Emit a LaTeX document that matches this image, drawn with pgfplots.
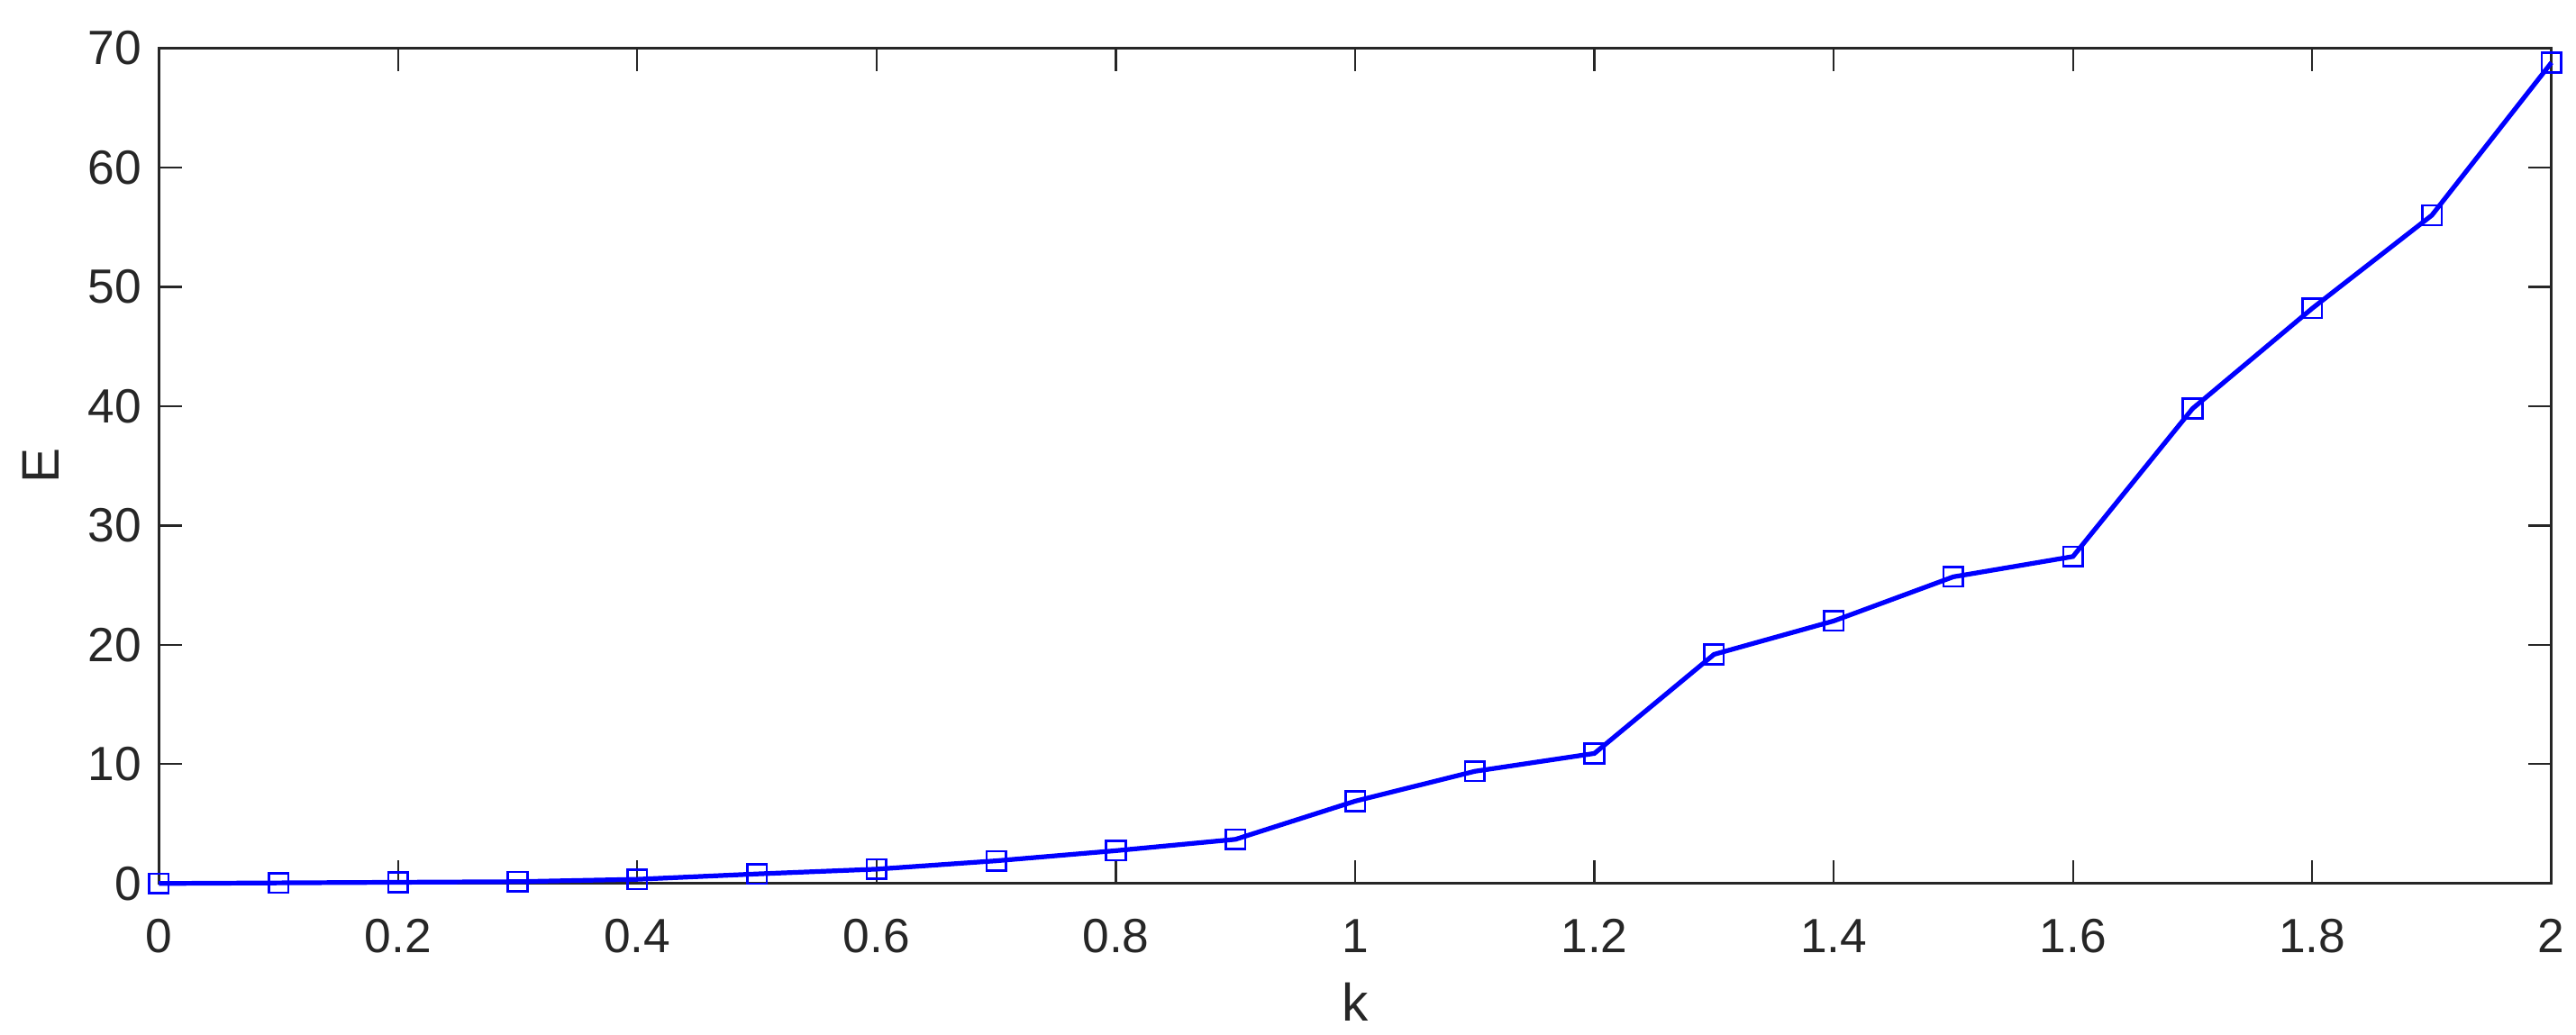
\documentclass[border={0.12cm 0.02cm 0pt 0.21cm}]{standalone}
\usepackage{fontspec}
\setmainfont{Liberation Sans}
\usepackage{pgfplots}
\pgfplotsset{compat=1.18}
\definecolor{axgray}{gray}{0.15}
\begin{document}
\begin{tikzpicture}
\begin{axis}[
    scale only axis,
    width=25.03cm,
    height=8.74cm,
    xmin=0, xmax=2,
    ymin=0, ymax=70,
    xtick={0,0.2,...,2},
    ytick={0,10,...,70},
    xticklabels={0,0.2,0.4,0.6,0.8,1,1.2,1.4,1.6,1.8,2},
    tick align=inside,
    major tick length=0.24cm,
    axis line style={axgray, line width=0.7pt},
    every tick/.style={axgray, line width=0.6pt},
    tick label style={font=\fontsize{14.3}{16}\selectfont, text=axgray},
    yticklabel style={xshift=-0.06cm},
    xticklabel style={yshift=-0.25cm},
    /pgf/number format/assume math mode=true,
    xlabel={k},
    ylabel={E},
    xlabel shift=0.07cm,
    ylabel shift=0.06cm,
    label style={font=\fontsize{15.7}{18}\selectfont, text=axgray},
    clip=false,
]
\addplot[blue, line width=1.4pt, mark=square, mark size=2.9pt,
         mark options={line width=0.7pt, fill=none}]
coordinates {
(0,0) (0.1,0.05) (0.2,0.1) (0.3,0.15) (0.4,0.35) (0.5,0.8) (0.6,1.2)
(0.7,1.9) (0.8,2.75) (0.9,3.7) (1.0,6.9) (1.1,9.4) (1.2,10.9)
(1.3,19.2) (1.4,22.0) (1.5,25.7) (1.6,27.4) (1.7,39.8) (1.8,48.2)
(1.9,56.0) (2.0,68.8)
};
\end{axis}
\end{tikzpicture}
\end{document}
